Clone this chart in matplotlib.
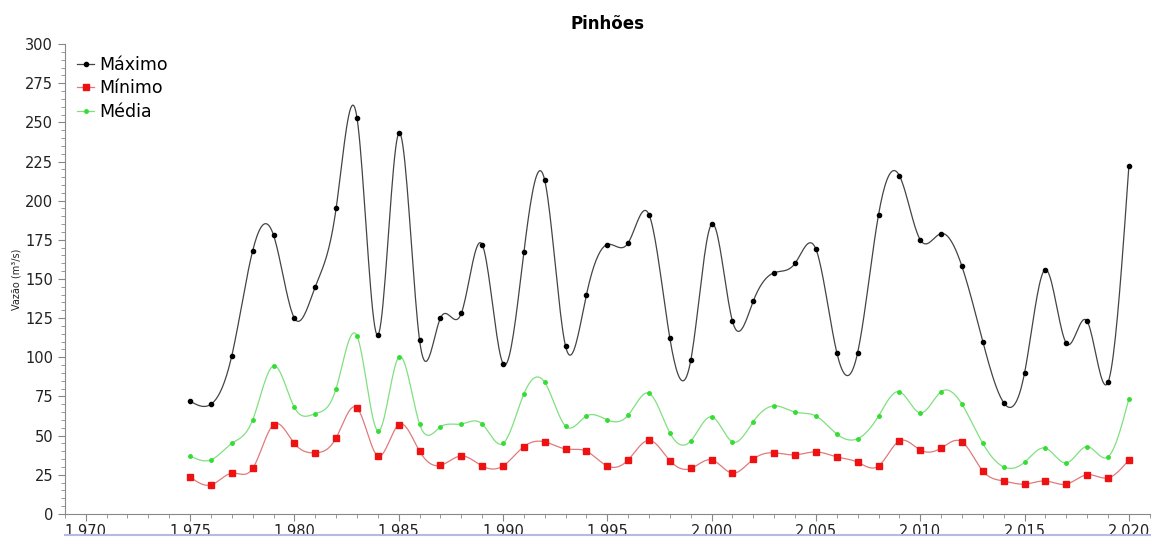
import numpy as np
import matplotlib
matplotlib.use("Agg")
import matplotlib.pyplot as plt
from matplotlib.ticker import MultipleLocator, FuncFormatter

years = list(range(1975, 2021))
maximo = [72, 70, 101, 168, 178, 125, 145, 195, 253, 114,
          243, 111, 125, 128, 172, 96, 167, 213, 107, 140,
          172, 173, 191, 112, 98, 185, 123, 136, 154, 160,
          169, 103, 103, 191, 216, 175, 179, 158, 110, 71,
          90, 156, 109, 123, 84, 222]
minimo = [23.6, 18.5, 26, 29, 57, 45, 39, 48.5, 67.7, 37,
          57, 40, 31, 37, 30.6, 30.6, 43, 46, 41.5, 40,
          30.6, 34.5, 47, 34, 29, 34.5, 26, 35, 39, 37.7,
          39.6, 36.4, 33, 30.6, 46.6, 40.8, 42, 46, 27.4, 21,
          19, 21, 19, 25, 23, 34.5]
media = [37, 34.5, 45, 60, 94.5, 68, 64, 80, 113.6, 53,
         100, 57.4, 55.5, 57.4, 57.4, 45, 76.6, 84, 56, 62.5,
         60, 63, 77, 51.7, 46.6, 62, 46, 59, 69, 65,
         62.5, 51, 48, 62.5, 78, 64.5, 78, 70, 45, 30,
         33, 42, 32.5, 43, 36.4, 73.4]


def spline(x, y, n=20):
    # natural cubic spline, only used to draw the smooth line between points
    x = np.asarray(x, float)
    y = np.asarray(y, float)
    k = len(x)
    h = np.diff(x)
    A = np.zeros((k, k))
    b = np.zeros(k)
    A[0, 0] = A[-1, -1] = 1
    for i in range(1, k - 1):
        A[i, i - 1] = h[i - 1]
        A[i, i] = 2 * (h[i - 1] + h[i])
        A[i, i + 1] = h[i]
        b[i] = 6 * ((y[i + 1] - y[i]) / h[i] - (y[i] - y[i - 1]) / h[i - 1])
    M = np.linalg.solve(A, b)
    xs, ys = [], []
    for i in range(k - 1):
        t = np.linspace(x[i], x[i + 1], n, endpoint=False)
        a = (x[i + 1] - t) / h[i]
        c = (t - x[i]) / h[i]
        s = (a * y[i] + c * y[i + 1]
             + ((a ** 3 - a) * M[i] + (c ** 3 - c) * M[i + 1]) * h[i] ** 2 / 6)
        xs.append(t)
        ys.append(s)
    xs.append([x[-1]])
    ys.append([y[-1]])
    return np.concatenate(xs), np.concatenate(ys)


plt.rcParams["font.family"] = "DejaVu Sans"
fig = plt.figure(figsize=(11.59, 5.37), dpi=100)
ax = fig.add_axes([0.056, 0.043, 0.936, 0.875])

series = [
    ("Máximo", maximo, "#000000", "#444444", "o", 3),
    ("Mínimo", minimo, "#ee1111", "#e07a7a", "s", 4.3),
    ("Média", media, "#33dd33", "#80e080", "o", 2.5),
]
for name, vals, mc, lc, mk, ms in series:
    sx, sy = spline(years, vals)
    ax.plot(sx, sy, color=lc, lw=0.9, zorder=2)
    ax.plot(years, vals, linestyle="none", marker=mk, ms=ms, color=mc, zorder=3)
    ax.plot([], [], color=lc, lw=0.9, marker=mk, ms=ms, mfc=mc, mec=mc, label=name)

ax.set_xlim(1969, 2021)
ax.set_ylim(0, 300)
ax.xaxis.set_major_locator(MultipleLocator(5))
ax.xaxis.set_minor_locator(MultipleLocator(1))
ax.yaxis.set_major_locator(MultipleLocator(25))
ax.yaxis.set_minor_locator(MultipleLocator(5))
ax.xaxis.set_major_formatter(FuncFormatter(lambda v, p: f"{int(v) // 1000}.{int(v) % 1000:03d}"))
for s in ("top", "right"):
    ax.spines[s].set_visible(False)
for s in ("left", "bottom"):
    ax.spines[s].set_color("#888888")
ax.tick_params(which="both", colors="#888888", labelcolor="#222222", labelsize=10.5)
ax.tick_params(which="major", length=5)
ax.tick_params(which="minor", length=3)
ax.tick_params(axis="x", pad=2)

ax.set_ylabel("Vazão (m³/s)", fontsize=7, color="#222222")
ax.yaxis.set_label_coords(-0.04, 0.5)
ax.set_title("Pinhões", fontsize=12, fontweight="bold", pad=11)

leg = ax.legend(loc="upper left", frameon=False, fontsize=12.5,
                handlelength=1.0, handletextpad=0.3, labelspacing=0.3,
                borderaxespad=0.3, bbox_to_anchor=(0.0, 1.0))

fig.add_artist(plt.Line2D([0.056, 0.992], [0.004, 0.004], color="#b8b8e0", lw=1.5))

fig.savefig("out.png", dpi=100)
